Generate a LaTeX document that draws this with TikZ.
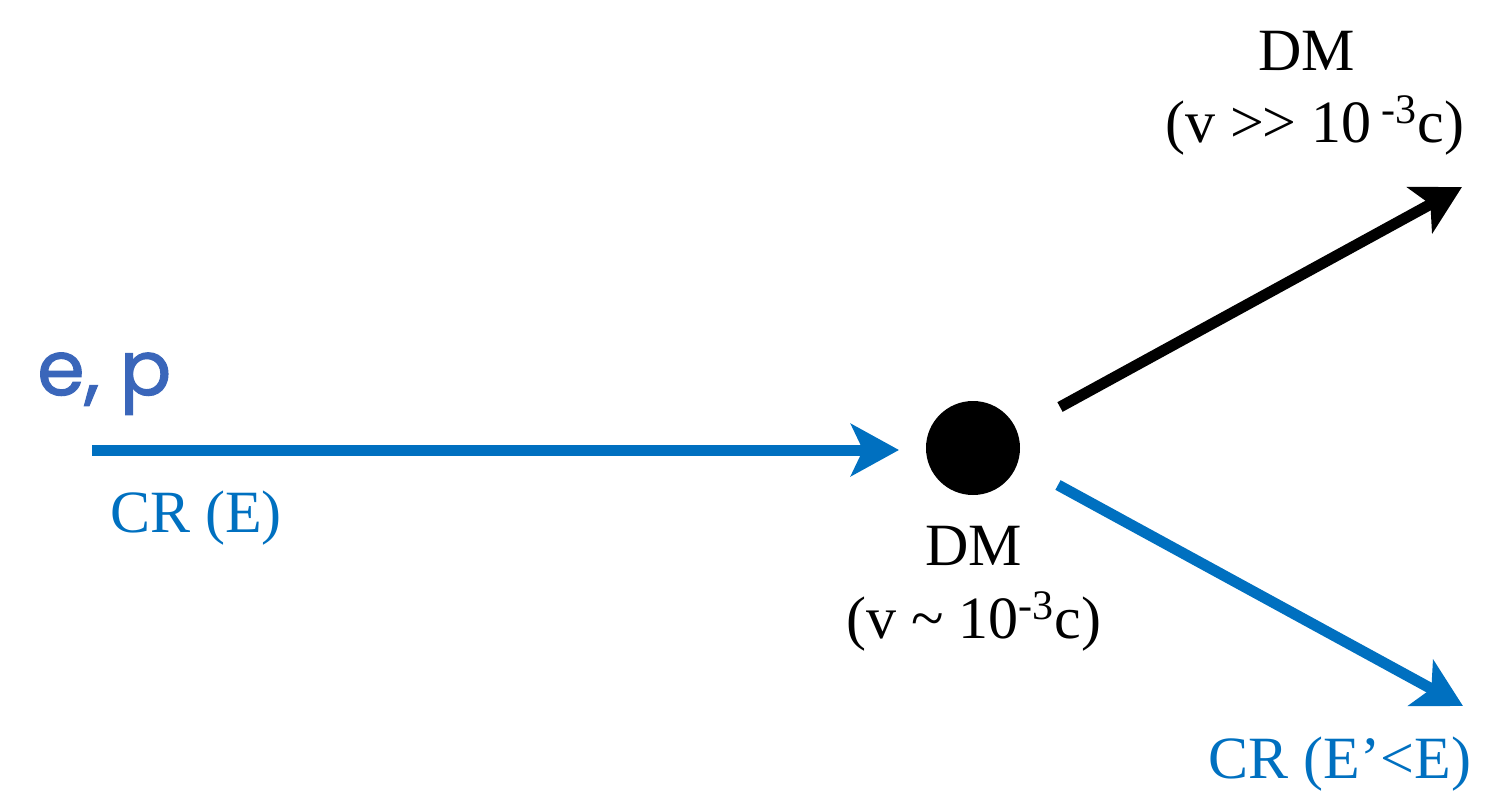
\documentclass[tikz,border=0pt]{standalone}
\usepackage{fontspec}
\setmainfont{Liberation Serif}
\newfontfamily\epfont[FakeBold=1.5]{Poppins}
\usetikzlibrary{arrows.meta}
\definecolor{crblue}{HTML}{0070C0}
\definecolor{epblue}{HTML}{3A66BA}
\tikzset{
  lbl/.style={inner sep=0pt, font=\fontsize{30}{36}\selectfont, anchor=base},
  conn/.style={line width=5.5pt, -{Stealth[length=24pt, width=26pt, inset=6pt]}},
}
\begin{document}
\begin{tikzpicture}[x=0.5pt, y=-0.5pt]
\useasboundingbox (0,0) rectangle (1511,809);
% dark matter particle
\node[circle, fill=black, inner sep=0pt, minimum size=47pt] (dm) at (973,448) {};
% connector end points
\coordinate (src) at (92,450);
\coordinate (inT) at (899,450);
\coordinate (upS) at (1060,407);
\coordinate (upT) at (1462,187);
\coordinate (dnS) at (1058,485);
\coordinate (dnT) at (1463,706);
% connectors
\draw[conn, crblue] (src) -- (inT);
\draw[conn, black] (upS) -- (upT);
\draw[conn, crblue] (dnS) -- (dnT);
% labels
\node[inner sep=0pt, anchor=base west, text=epblue, font=\epfont\fontsize{38}{44}\selectfont] (ep) at (37,395) {e, p};
\node[lbl, text=crblue] (crE) at (196,532) {CR (E)};
\node[lbl] (dmA) at (974,565) {DM};
\node[lbl] (dmAv) at (974,638) {(v \textasciitilde\ 10\textsuperscript{-3}c)};
\node[lbl] (dmB) at (1307,70) {DM};
\node[lbl] (dmBv) at (1315,142) {(v \textgreater\kern-1pt\textgreater\ 10\,\textsuperscript{-3}c)};
\node[lbl, text=crblue] (crE2) at (1340,778) {CR (E’<E)};
\end{tikzpicture}
\end{document}
